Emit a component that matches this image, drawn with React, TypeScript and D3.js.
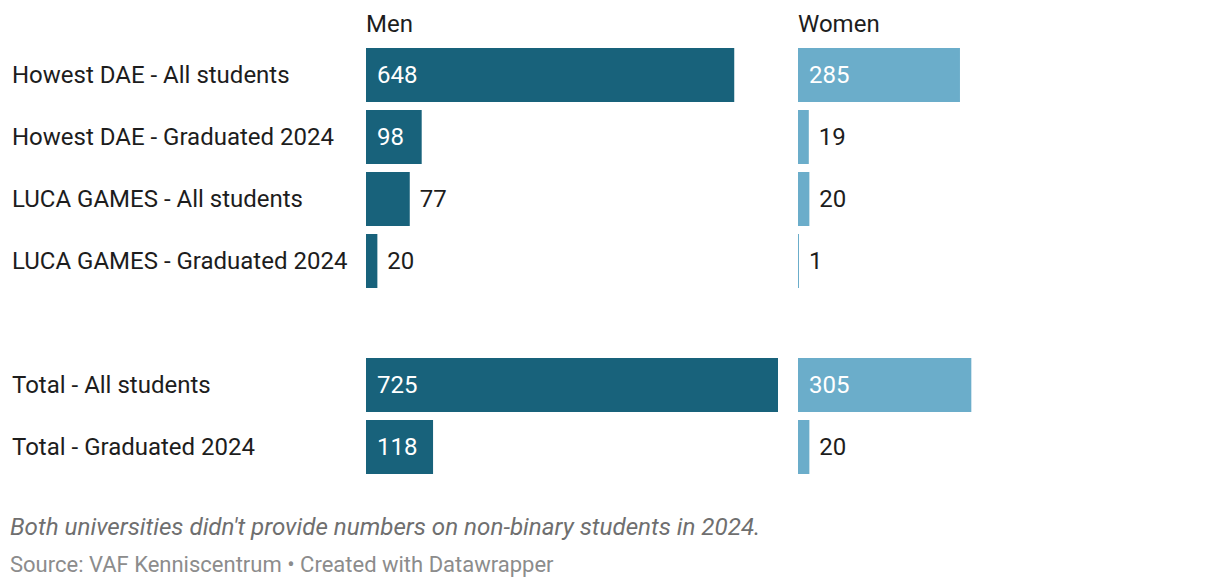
import { useMemo } from 'react'
import * as d3 from 'd3'

// rows, with an empty spacer row between the school rows and the totals
const categories = [
  'Howest DAE - All students',
  'Howest DAE - Graduated 2024',
  'LUCA GAMES - All students',
  'LUCA GAMES - Graduated 2024',
  '',
  'Total - All students',
  'Total - Graduated 2024',
]
const menValues = [648, 98, 77, 20, null, 725, 118]
const womenValues = [285, 19, 20, 1, null, 305, 20]
const columns = ['Men', 'Women']

const MEN_COLOR = '#18627b'
const WOMEN_COLOR = '#6badca'
const FONT = 'Roboto, "Noto Sans", sans-serif'

export default function App() {
  const width = 1220
  const height = 588

  // step 62px, bar 54px
  const y = useMemo(
    () =>
      d3
        .scaleBand<number>()
        .domain(d3.range(categories.length))
        .range([48, 48 + 62 * categories.length - 8])
        .paddingInner(8 / 62)
        .paddingOuter(0),
    []
  )

  // same value scale for both panels
  const x = useMemo(() => d3.scaleLinear().domain([0, 725]).range([0, 412]), [])

  const panels = [
    { name: columns[0], x0: 366, values: menValues, color: MEN_COLOR },
    { name: columns[1], x0: 798, values: womenValues, color: WOMEN_COLOR },
  ]

  return (
    <svg width={width} height={height} style={{ position: 'absolute', left: 0, top: 0, background: '#fff' }}>
      {/* row labels */}
      {categories.map((c, i) => (
        <text
          key={'l' + i}
          x={12}
          y={(y(i) || 0) + y.bandwidth() / 2}
          dy="0.35em"
          fontFamily={FONT}
          fontSize={24}
          fill="#1d1d1d"
        >
          {c}
        </text>
      ))}

      {panels.map((p) => (
        <g key={p.name} transform={`translate(${p.x0},0)`}>
          <text x={0} y={32} fontFamily={FONT} fontSize={24} fill="#1d1d1d">
            {p.name}
          </text>
          {p.values.map((v, i) => {
            if (v == null) return null
            const w = Math.max(1, x(v))
            const inside = w > 50
            const cy = (y(i) || 0) + y.bandwidth() / 2
            return (
              <g key={i}>
                <rect x={0} y={y(i)} width={w} height={y.bandwidth()} fill={p.color} />
                <text
                  x={inside ? 11 : w + 10}
                  y={cy}
                  dy="0.35em"
                  fontFamily={FONT}
                  fontSize={24}
                  fill={inside ? '#ffffff' : '#1d1d1d'}
                >
                  {d3.format('d')(v)}
                </text>
              </g>
            )
          })}
        </g>
      ))}

      <text x={10} y={535} fontFamily={FONT} fontSize={24.2} fontStyle="italic" fill="#6f6f6f">
        Both universities didn't provide numbers on non-binary students in 2024.
      </text>
      <text x={10} y={572} fontFamily={FONT} fontSize={22} fill="#8c8c8c">
        Source: VAF Kenniscentrum • Created with Datawrapper
      </text>
    </svg>
  )
}
